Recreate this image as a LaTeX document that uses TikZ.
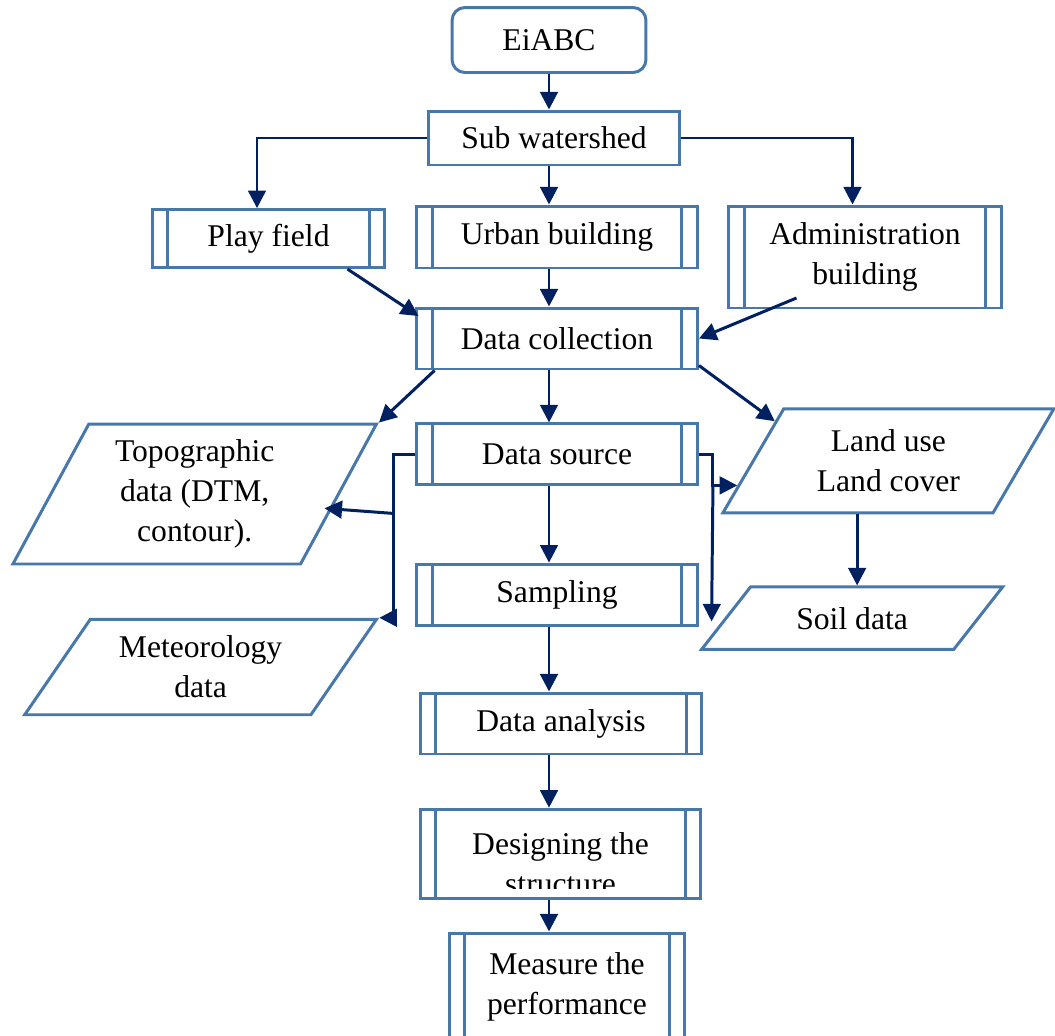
\documentclass[tikz,border=0pt]{standalone}
\usepackage{fontspec}
\setmainfont{Liberation Serif}
\usetikzlibrary{arrows.meta,shapes.geometric,calc}
\definecolor{boxblue}{RGB}{72,120,170}
\definecolor{flownavy}{RGB}{0,32,96}
\begin{document}
\begin{tikzpicture}
    [
    x=0.02cm,y=-0.02cm,
    every node/.style={font=\fontsize{18}{22.6}\selectfont,align=center},
    startbox/.style={draw=boxblue,line width=1.7pt,rounded corners=0.26cm,minimum width=3.88cm,minimum height=1.3cm},
    plainbox/.style={draw=boxblue,line width=1.7pt,minimum width=5.04cm,minimum height=1.08cm},
    procbox/.style={draw=boxblue,line width=1.7pt,minimum width=5.62cm,minimum height=1.22cm,
      path picture={\draw[boxblue,line width=1.7pt]
        ([xshift=0.31cm]path picture bounding box.north west) -- ([xshift=0.31cm]path picture bounding box.south west)
        ([xshift=-0.31cm]path picture bounding box.north east) -- ([xshift=-0.31cm]path picture bounding box.south east);}},
    databox/.style 2 args={draw=boxblue,line width=1.7pt,trapezium,trapezium stretches=true,
      trapezium left angle=#1,trapezium right angle=#2,inner sep=2pt},
    flow/.style={draw=flownavy,line width=1.7pt,-{Triangle[length=10pt,width=10pt]}},
    ]
    \useasboundingbox (0,0) rectangle (1055,1035);
    \node (eiabc) at (549,40) [startbox] {EiABC};
    \node (sub) at (554,138) [plainbox] {Sub watershed};
    \node (play) at (268.5,238.6) [procbox,minimum width=4.66cm,minimum height=1.16cm] {Play field};
    \node (urban) at (557,237) [procbox,minimum height=1.24cm] {Urban building};
    \node (admin) at (865,257) [procbox,minimum width=5.46cm,minimum height=2.04cm] {Administration\\building};
    \node (collect) at (557,338.5) [procbox] {Data collection};
    \node (source) at (557,454.4) [procbox] {Data source};
    \node (sampling) at (557,594.6) [procbox] {Sampling};
    \node (analysis) at (561,723.5) [procbox,minimum width=5.64cm] {Data analysis};
    \node (design) at (560.5,853.7) [procbox,minimum height=1.78cm] {};
    \begin{scope}
      \clip (design.north west) rectangle ($(design.south east)+(0,-11.5)$);
      \node (designtext) at (560.5,864) {Designing the\\structure};
    \end{scope}
    \node (measure) at (567,987) [procbox,minimum width=4.72cm,minimum height=2.16cm] {Measure the\\performance};
    \node (topo) at (194.7,494) [databox={62.6}{117.4},minimum width=7.29cm,minimum height=2.8cm] {Topographic\\data (DTM,\\contour).};
    \node (meteo) at (200.6,667) [databox={53.7}{126.3},minimum width=7.05cm,minimum height=1.91cm] {Meteorology\\data};
    \node (land) at (888.4,460.8) [databox={57.7}{122.3},minimum width=6.62cm,minimum height=2.08cm] {Land use\\Land cover};
    \node (soil) at (852.1,618.2) [databox={45.7}{134.3},minimum width=6.09cm,minimum height=1.25cm] {Soil data};
    \draw[flow] (eiabc.south) -- (sub.north -| eiabc.south);
    \draw[flow] (sub.west) -| ([xshift=-0.23cm]play.north);
    \draw[flow] (sub.east) -| ([xshift=-0.25cm]admin.north);
    \draw[flow] (sub.south -| eiabc.south) -- (urban.north -| eiabc.south);
    \draw[flow] ([xshift=1.58cm]play.south) -- ([shift={(0.07cm,-0.19cm)}]collect.north west);
    \draw[flow] ([shift={(-1.37cm,0.23cm)}]admin.south) -- (collect.east);
    \draw[flow] (urban.south -| eiabc.south) -- (collect.north -| eiabc.south);
    \draw[flow] ([xshift=0.39cm]collect.south west) -- (topo.top right corner);
    \draw[flow] (collect.south -| eiabc.south) -- (source.north -| eiabc.south);
    \draw[flow] ([yshift=0.1cm]collect.south east) -- ($(land.top left corner)!0.13!(land.bottom left corner)$);
    \draw[flow] (source.west) -- ++(-22,0) coordinate (lbus) |- (meteo.top right corner);
    \draw[flow] ($(lbus)+(0,59)$) -- ($(topo.top right corner)!0.6!(topo.bottom right corner)+(-8,0)$);
    \draw[flow] (source.east) -- ++(14,0) coordinate (rbus) |- ($(land.top left corner)!0.73!(land.bottom left corner)$);
    \draw[flow] ($(rbus)+(0,30)$) -- ($(soil.top left corner)!0.55!(soil.bottom left corner)+(-10,0)$);
    \draw[flow] (land.bottom side) -- (land.bottom side |- soil.top side);
    \draw[flow] (source.south -| eiabc.south) -- (sampling.north -| eiabc.south);
    \draw[flow] (sampling.south -| eiabc.south) -- (analysis.north -| eiabc.south);
    \draw[flow] (analysis.south -| eiabc.south) -- (design.north -| eiabc.south);
    \draw[flow] (design.south -| eiabc.south) -- (measure.north -| eiabc.south);
  \end{tikzpicture}
\end{document}
